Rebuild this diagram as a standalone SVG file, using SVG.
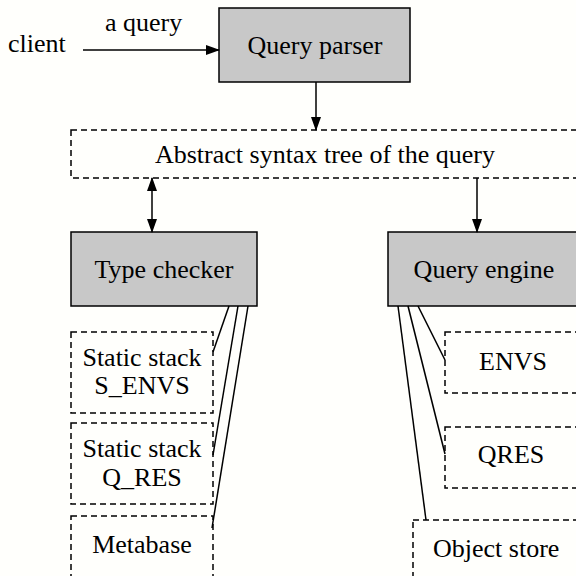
<svg xmlns="http://www.w3.org/2000/svg" width="576" height="576" viewBox="0 0 576 576">
<style>
text{font-family:"Liberation Serif","Times New Roman",serif;font-size:26px;fill:#000}
.proc{fill:#c8c8c8;stroke:#000;stroke-width:1.5}
.data{fill:#fffffc;stroke:#000;stroke-width:1.5;stroke-dasharray:6,4}
.c{fill:none;stroke:#000;stroke-width:1.5}
</style>
<defs>
<marker id="ah" markerWidth="14" markerHeight="10" refX="13" refY="5" orient="auto" markerUnits="userSpaceOnUse">
<path d="M0,0 L14,5 L0,10 Z" fill="#000"/>
</marker>
<marker id="as" markerWidth="14" markerHeight="10" refX="1" refY="5" orient="auto" markerUnits="userSpaceOnUse">
<path d="M14,0 L0,5 L14,10 Z" fill="#000"/>
</marker>
</defs>
<rect width="576" height="576" fill="#fffffc"/>
<g id="client"><text x="8" y="52">client</text></g>
<g id="parser"><rect class="proc" x="219" y="8" width="191" height="74"/><text x="315" y="54" text-anchor="middle">Query parser</text></g>
<g id="ast"><rect class="data" x="71" y="130" width="515" height="48"/><text x="325" y="163" text-anchor="middle">Abstract syntax tree of the query</text></g>
<g id="typechecker"><rect class="proc" x="71" y="232" width="186" height="74"/><text x="164" y="278" text-anchor="middle">Type checker</text></g>
<g id="engine"><rect class="proc" x="388" y="232" width="198" height="74"/><text x="484" y="278" text-anchor="middle">Query engine</text></g>
<g id="senvs"><rect class="data" x="71" y="332" width="142" height="81"/><text x="142" y="366" text-anchor="middle">Static stack</text><text x="142" y="394" text-anchor="middle">S_ENVS</text></g>
<g id="qres_s"><rect class="data" x="71" y="423" width="142" height="81"/><text x="142" y="457" text-anchor="middle">Static stack</text><text x="142" y="486" text-anchor="middle">Q_RES</text></g>
<g id="metabase"><rect class="data" x="71" y="516" width="142" height="80"/><text x="142" y="553" text-anchor="middle">Metabase</text></g>
<g id="envs"><rect class="data" x="445" y="332" width="141" height="61"/><text x="513" y="370" text-anchor="middle">ENVS</text></g>
<g id="qres"><rect class="data" x="445" y="427" width="141" height="61"/><text x="511" y="463" text-anchor="middle">QRES</text></g>
<g id="objectstore"><rect class="data" x="413" y="520" width="173" height="76"/><text x="433" y="557">Object store</text></g>
<g id="connectors">
<line class="c" x1="83" y1="50" x2="219" y2="50" marker-end="url(#ah)"/>
<text x="105" y="31">a query</text>
<line class="c" x1="316" y1="82" x2="316" y2="130" marker-end="url(#ah)"/>
<line class="c" x1="152" y1="178" x2="152" y2="232" marker-start="url(#as)" marker-end="url(#ah)"/>
<line class="c" x1="477" y1="178" x2="477" y2="232" marker-end="url(#ah)"/>
<line class="c" x1="229" y1="306" x2="213" y2="352"/>
<line class="c" x1="238" y1="306" x2="213" y2="455"/>
<line class="c" x1="248" y1="306" x2="212" y2="528"/>
<line class="c" x1="418" y1="306" x2="445" y2="360"/>
<line class="c" x1="408" y1="306" x2="445" y2="454"/>
<line class="c" x1="398" y1="306" x2="426" y2="520"/>
</g>
</svg>
